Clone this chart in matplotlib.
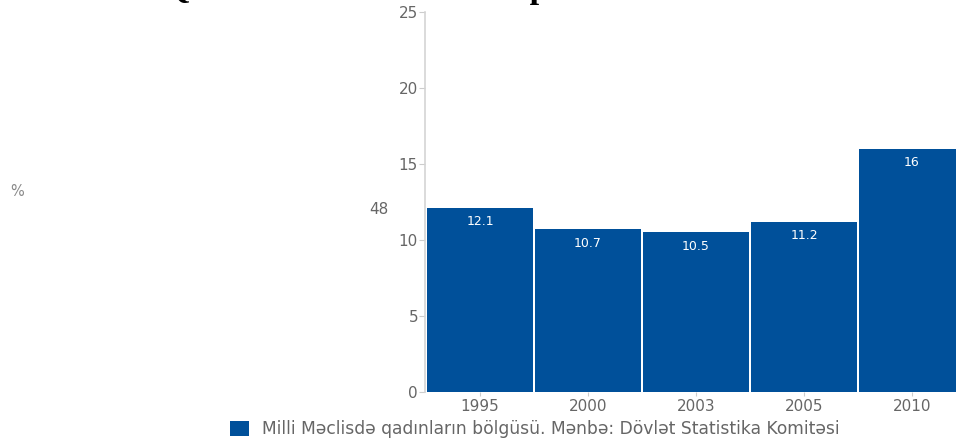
import matplotlib
matplotlib.use("Agg")
import matplotlib.pyplot as plt

# data
years = ['1995', '2000', '2003', '2005', '2010']
shares = [12.1, 10.7, 10.5, 11.2, 16]
y_ticks = [0, 5, 10, 15, 20, 25]
legend_label = 'Milli Məclisdə qadınların bölgüsü. Mənbə: Dövlət Statistika Komitəsi'
title_text = 'Qadın millət vəkillərinin parlamentdə təmsili'

BAR_BLUE = '#00509a'
GRAY = '#666666'

plt.rcParams['font.family'] = ['DejaVu Sans']

fig = plt.figure(figsize=(9.56, 4.38), dpi=100)
# axes runs past the right edge, like the clipped original
ax = fig.add_axes([425 / 956, 1 - 392 / 438, 541 / 956, 380 / 438])

x = list(range(len(years)))
bars = ax.bar(x, shares, width=0.98, color=BAR_BLUE, label=legend_label)

for xi, v in zip(x, shares):
    ax.annotate(f'{v:g}', (xi, v), xytext=(0, -10), textcoords='offset points',
                ha='center', va='center', color='white', fontsize=9)

ax.set_xlim(-0.51, len(years) - 0.5)
ax.set_ylim(0, 25)
ax.set_yticks(y_ticks)
ax.set_xticks(x)
ax.set_xticklabels(years)

for s in ['top', 'right', 'bottom']:
    ax.spines[s].set_visible(False)
ax.spines['left'].set_color('#d4d4d4')
ax.spines['left'].set_linewidth(1.2)

ax.tick_params(axis='y', length=4, color='#cccccc', labelcolor=GRAY, labelsize=11, pad=1)
ax.tick_params(axis='x', length=3, color='#cccccc', labelcolor=GRAY, labelsize=11, pad=2)

# stray labels on the left
fig.text(10 / 956, 1 - 191 / 438, '%', color='#888888', fontsize=10.5, ha='left', va='center')
fig.text(379 / 956, 1 - 210 / 438, '48', color=GRAY, fontsize=11, ha='center', va='center')

# title, mostly cut off by the top edge
fig.text(164 / 956, 1.0045, title_text, fontfamily='Liberation Serif', fontweight='bold',
         fontsize=24.5, ha='left', va='baseline', color='black')

fig.legend(handles=[bars], labels=[legend_label], loc='upper left',
           bbox_to_anchor=(230 / 956, 1 - 420 / 438), frameon=False, fontsize=12.3,
           labelcolor=GRAY, handlelength=1.1, handleheight=1.0, handletextpad=0.75,
           borderpad=0, borderaxespad=0)

fig.savefig('out.png', dpi=100)
